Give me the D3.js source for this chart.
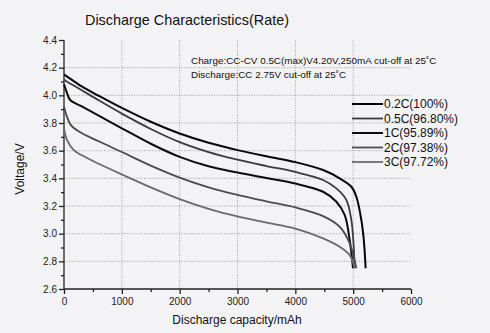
<!DOCTYPE html>
<html><head><meta charset="utf-8">
<script src="https://cdn.jsdelivr.net/npm/d3@7"></script>
<style>
html,body{margin:0;padding:0;background:#f3f3f5;}
svg{display:block;font-family:Arial,"Liberation Sans",sans-serif;}
</style></head><body>
<svg id="c" width="490" height="333"></svg>
<script>
const seriesNames = ["0.2C(100%)","0.5C(96.80%)","1C(95.89%)","2C(97.38%)","3C(97.72%)"];
const seriesColors = ["#050505","#3c3c3c","#0c0c0c","#4c4c4c","#6a6a6a"];
const xTicks = [0,1000,2000,3000,4000,5000,6000];
const yTicks = [2.6,2.8,3.0,3.2,3.4,3.6,3.8,4.0,4.2,4.4];
const curve02C = [[0,4.15],[30,4.143],[300,4.066],[600,3.997],[1000,3.909],[1500,3.809],[2000,3.724],[2500,3.657],[3000,3.604],[3500,3.559],[4000,3.517],[4480,3.46],[4767,3.40],[4969,3.339],[5055,3.267],[5141,3.10],[5185,2.95],[5215,2.75]];
const curve05C = [[0,4.115],[20,4.108],[300,4.039],[600,3.964],[1000,3.868],[1500,3.757],[2000,3.662],[2500,3.59],[3000,3.535],[3500,3.489],[4000,3.446],[4480,3.388],[4710,3.327],[4883,3.243],[4969,3.098],[5003,2.95],[5026,2.75]];
const curve1C = [[0,4.08],[50,4.02],[107,3.966],[300,3.922],[600,3.853],[1000,3.762],[1500,3.65],[2000,3.555],[2500,3.487],[3000,3.442],[3500,3.402],[4000,3.362],[4480,3.303],[4710,3.231],[4853,3.135],[4940,2.954],[4997,2.75]];
const curve2C = [[0,3.92],[40,3.86],[110,3.79],[250,3.74],[600,3.668],[1000,3.59],[1500,3.492],[2000,3.405],[2500,3.335],[3000,3.28],[3500,3.234],[4000,3.19],[4480,3.127],[4767,3.05],[4940,2.93],[5055,2.75]];
const curve3C = [[0,3.76],[50,3.68],[165,3.605],[300,3.568],[600,3.505],[1000,3.428],[1500,3.335],[2000,3.25],[2500,3.18],[3000,3.125],[3500,3.08],[4000,3.037],[4480,2.966],[4767,2.905],[4940,2.845],[5026,2.75]];
const curves = [curve02C, curve05C, curve1C, curve2C, curve3C];
const widths = [2,1.8,2,1.8,1.8];

const svg = d3.select("#c");
const x = d3.scaleLinear().domain([0,6000]).range([64,411]);
const y = d3.scaleLinear().domain([2.6,4.4]).range([289,40]);

// grid
const grid = svg.append("g").attr("stroke","#8a8a8a").attr("stroke-width",0.8).attr("stroke-dasharray","1,1.5");
grid.selectAll("line.v").data([1000,2000,3000,4000,5000]).enter().append("line")
  .attr("x1",d=>x(d)).attr("x2",d=>x(d)).attr("y1",y(4.4)).attr("y2",y(2.6));
grid.selectAll("line.h").data([2.8,3.0,3.2,3.4,3.6,3.8,4.0,4.2]).enter().append("line")
  .attr("x1",x(0)).attr("x2",x(6000)).attr("y1",d=>y(d)).attr("y2",d=>y(d));

// axes
const xAxis = d3.axisBottom(x).tickValues(xTicks).tickFormat(d3.format("d")).tickSize(5).tickPadding(4);
const xMinor = d3.axisBottom(x).tickValues(d3.range(500,6000,1000)).tickFormat("").tickSize(3);
const yAxis = d3.axisLeft(y).tickValues(yTicks).tickFormat(d3.format(".1f")).tickSize(5).tickPadding(2);
const yMinor = d3.axisLeft(y).tickValues(d3.range(2.7,4.4,0.2)).tickFormat("").tickSize(3);
function style(g){g.selectAll("path,line").attr("stroke","#222").attr("stroke-width",1.3);g.selectAll("text").attr("fill","#222").attr("font-size",10).attr("font-family","Arial,'Liberation Sans',sans-serif");}
svg.append("g").attr("transform",`translate(0,${y(2.6)})`).call(xMinor).call(style).select(".domain").remove();
svg.append("g").attr("transform",`translate(${x(0)},0)`).call(yMinor).call(style).select(".domain").remove();
svg.append("g").attr("transform",`translate(0,${y(2.6)})`).call(xAxis).call(style).call(g=>g.select(".domain").attr("d",`M${x(0)},0H${x(6000)}`));
svg.append("g").attr("transform",`translate(${x(0)},0)`).call(yAxis).call(style).call(g=>g.select(".domain").attr("d",`M0,${y(4.4)}V${y(2.6)}`));

// curves
const line = d3.line().x(d=>x(d[0])).y(d=>y(d[1])).curve(d3.curveCatmullRom.alpha(0.5));
curves.forEach((c,i)=>{
  svg.append("path").attr("d",line(c)).attr("fill","none").attr("stroke",seriesColors[i]).attr("stroke-width",widths[i]).attr("stroke-linejoin","round");
});

// legend
const lg = svg.append("g");
seriesNames.forEach((n,i)=>{
  const yy = 104 + i*14.5;
  lg.append("line").attr("x1",352).attr("x2",383).attr("y1",yy).attr("y2",yy).attr("stroke",seriesColors[i]).attr("stroke-width",widths[i]);
  lg.append("text").attr("x",384).attr("y",yy+4.3).attr("font-size",12).attr("fill","#111").text(n);
});

// texts
svg.append("text").attr("x",85).attr("y",24.5).attr("font-size",14.4).attr("fill","#111").text("Discharge Characteristics(Rate)");
svg.append("text").attr("x",191).attr("y",63.5).attr("font-size",9.9).attr("fill","#111").text("Charge:CC-CV 0.5C(max)V4.20V,250mA cut-off at 25˚C");
svg.append("text").attr("x",191).attr("y",77.5).attr("font-size",9.9).attr("fill","#111").text("Discharge:CC 2.75V cut-off at 25˚C");
svg.append("text").attr("x",237).attr("y",324).attr("text-anchor","middle").attr("font-size",12).attr("fill","#111").text("Discharge capacity/mAh");
svg.append("text").attr("transform","translate(24,169) rotate(-90)").attr("text-anchor","middle").attr("font-size",12).attr("fill","#111").text("Voltage/V");
</script>
</body></html>
